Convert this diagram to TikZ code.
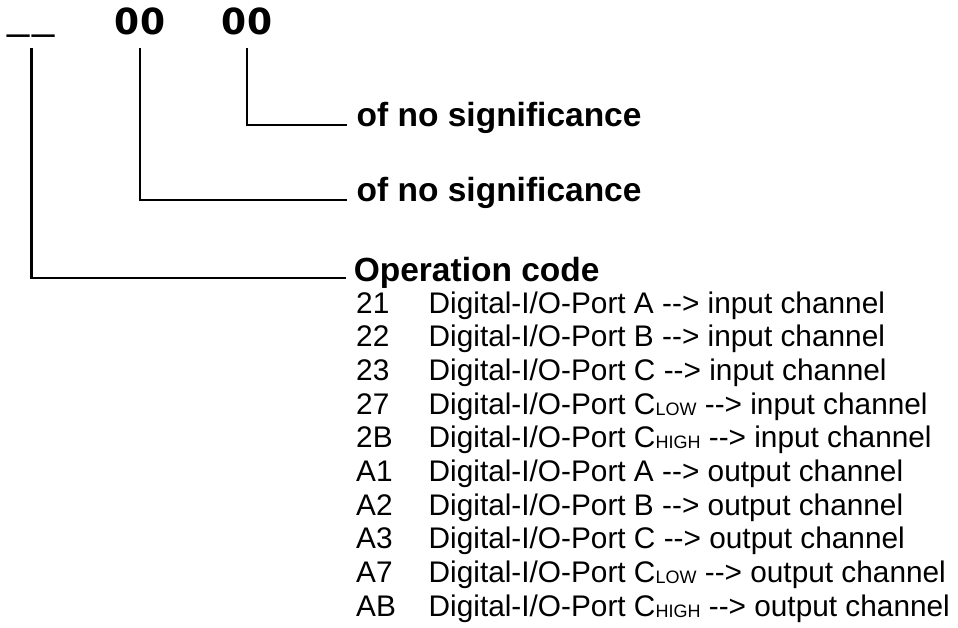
\documentclass[tikz,border=0pt]{standalone}
\usepackage{fontspec}
\setmainfont{Liberation Sans}
\newfontfamily\digitfont{DejaVu Sans}
\usetikzlibrary{positioning}
\newcommand\portsub[1]{\raisebox{-1pt}{\fontsize{18}{18}\selectfont #1}}
\tikzset{
    every node/.style={inner sep=0pt},
    topcode/.style={font=\digitfont\bfseries\fontsize{36}{36}\selectfont, anchor=south},
    field/.style={font=\bfseries\fontsize{33.5}{40}\selectfont, anchor=base west},
    entry/.style={font=\fontsize{29.8}{34}\selectfont, anchor=base west},
    wire/.style={line width=2.2pt},
}

\begin{document}
\begin{tikzpicture}[x=1pt, y=-1pt]
    \useasboundingbox (0,0) rectangle (958,628);
    % command word
    \node[topcode, font=\fontsize{40}{40}\selectfont, text height=4pt] (op) at (31.5,38) {\_\hspace{3pt}\_};
    \node[topcode] (hi) at (140,35) {0\hspace{1pt}0};
    \node[topcode] (lo) at (247,35) {0\hspace{1pt}0};
    % fields
    \node[field] (lo-txt) at (356.5,127) {of no significance};
    \node[field] (hi-txt) at (356.5,202) {of no significance};
    \node[field] (op-txt) at (353.6,281) {Operation code};
    \draw[wire] ([yshift=-13pt]lo.south) |- ([xshift=-10pt,yshift=2pt]lo-txt.base west);
    \draw[wire] ([yshift=-13pt]hi.south) |- ([xshift=-10pt,yshift=2pt]hi-txt.base west);
    \draw[wire] ([yshift=-10pt]op.south) |- ([xshift=-8pt,yshift=3pt]op-txt.base west);
    % operation codes
    \foreach \code/\desc [count=\i from 0] in {
        21/{Digital-I/O-Port A -{}-> input channel},
        22/{Digital-I/O-Port B -{}-> input channel},
        23/{Digital-I/O-Port C -{}-> input channel},
        27/{Digital-I/O-Port C\portsub{LOW} -{}-> input channel},
        2B/{Digital-I/O-Port C\portsub{HIGH} -{}-> input channel},
        A1/{Digital-I/O-Port A -{}-> output channel},
        A2/{Digital-I/O-Port B -{}-> output channel},
        A3/{Digital-I/O-Port C -{}-> output channel},
        A7/{Digital-I/O-Port C\portsub{LOW} -{}-> output channel},
        AB/{Digital-I/O-Port C\portsub{HIGH} -{}-> output channel}} {
        \node[entry] (code\i) at (356, {313+\i*33.7}) {\code};
        \node[entry] (desc\i) at (428.5, {313+\i*33.7}) {\desc};
    }
\end{tikzpicture}
\end{document}
